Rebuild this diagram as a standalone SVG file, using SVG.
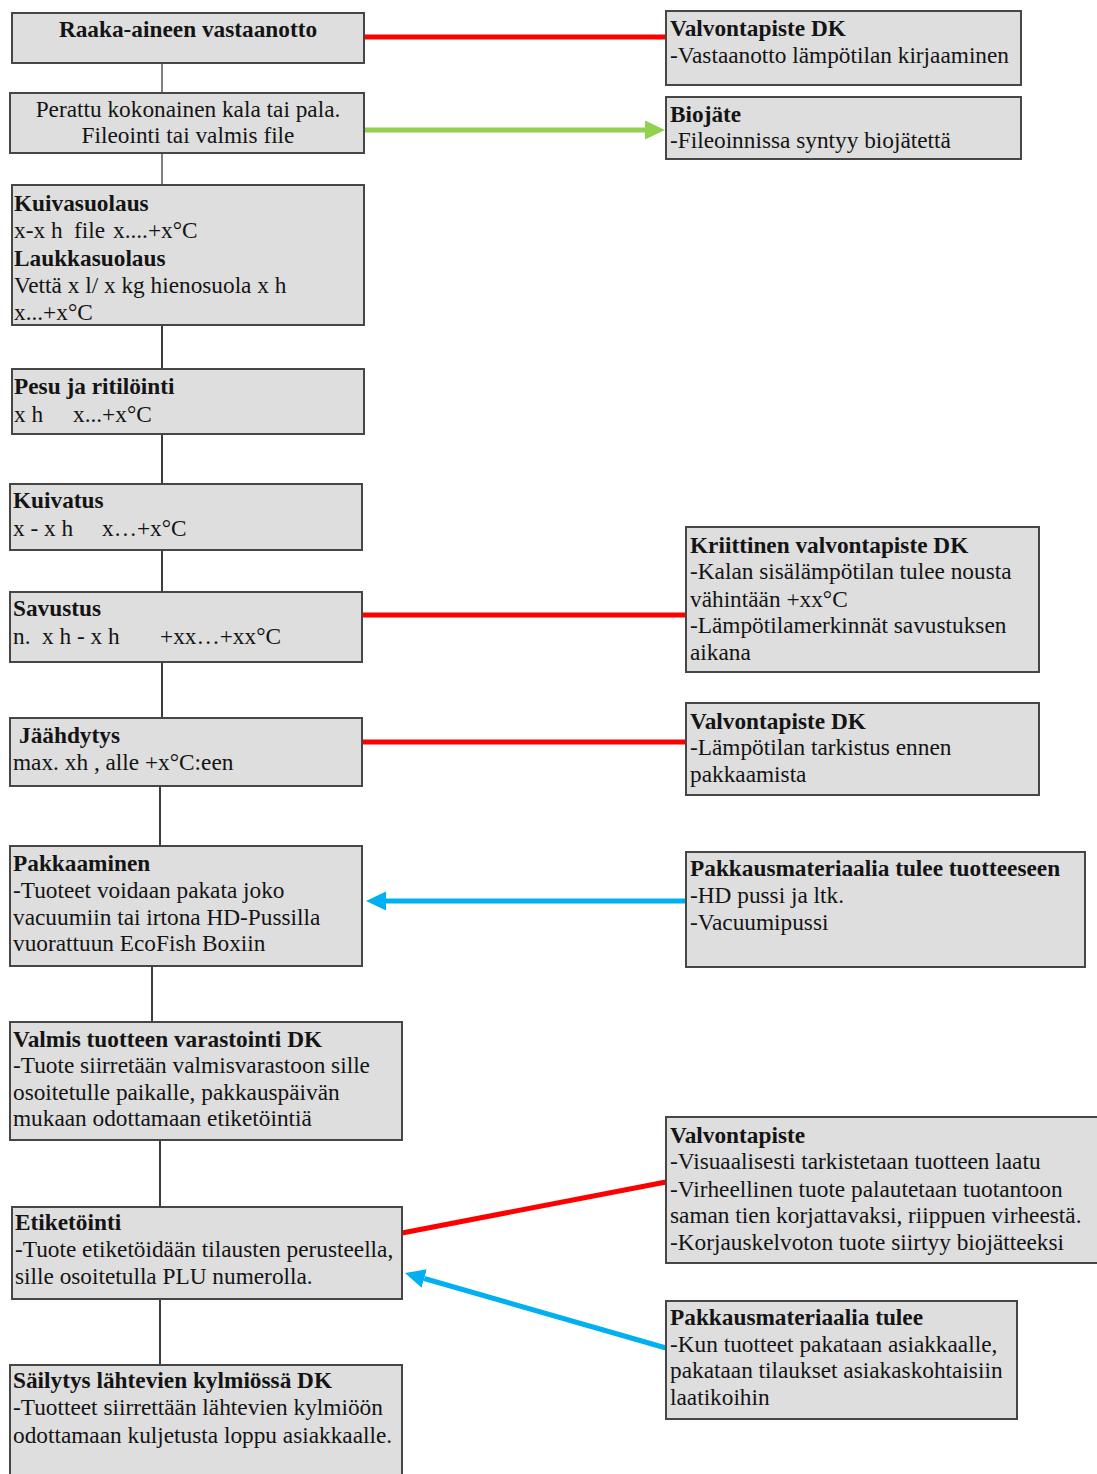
<svg xmlns="http://www.w3.org/2000/svg" width="1097" height="1474" viewBox="0 0 1097 1474">
<style>
  .box { fill: #dedede; stroke: #464646; stroke-width: 2; }
  text { font-family: "Liberation Serif", "Times New Roman", serif; font-size: 23.3px; fill: #141414; }
  .b { font-weight: bold; }
  .c { text-anchor: middle; }
  .vl { stroke: #3c3c3c; stroke-width: 2; fill: none; }
  .vlg { stroke: #808080; stroke-width: 2; fill: none; }
  .red { stroke: #ff0000; stroke-width: 5; fill: none; }
  .green { stroke: #92d050; stroke-width: 5; fill: none; }
  .blue { stroke: #00b0f0; stroke-width: 5; fill: none; }
</style>
<defs>
  <marker id="ahG" markerUnits="userSpaceOnUse" markerWidth="20" markerHeight="20" refX="0" refY="9.5" orient="auto">
    <path d="M0,0 L20,9.5 L0,19 z" fill="#92d050"/>
  </marker>
  <marker id="ahB" markerUnits="userSpaceOnUse" markerWidth="20" markerHeight="20" refX="0" refY="9.5" orient="auto">
    <path d="M0,0 L20,9.5 L0,19 z" fill="#00b0f0"/>
  </marker>
</defs>

<g id="connectors">
  <line class="vlg" x1="162" y1="63" x2="162" y2="93"/>
  <line class="vlg" x1="162" y1="153" x2="162" y2="185"/>
  <line class="vl" x1="162" y1="325" x2="162" y2="369"/>
  <line class="vl" x1="162" y1="434" x2="162" y2="484"/>
  <line class="vl" x1="162" y1="550" x2="162" y2="592"/>
  <line class="vl" x1="162" y1="662" x2="162" y2="718"/>
  <line class="vl" x1="160" y1="786" x2="160" y2="846"/>
  <line class="vl" x1="152" y1="966" x2="152" y2="1022"/>
  <line class="vl" x1="160" y1="1140" x2="160" y2="1207"/>
  <line class="vl" x1="160" y1="1299" x2="160" y2="1365"/>
  <line class="red" x1="364" y1="37" x2="666" y2="37"/>
  <line class="green" x1="364" y1="130" x2="645" y2="130" marker-end="url(#ahG)"/>
  <line class="red" x1="363" y1="615" x2="686" y2="615"/>
  <line class="red" x1="362" y1="742" x2="686" y2="742"/>
  <line class="blue" x1="686" y1="901" x2="386" y2="901" marker-end="url(#ahB)"/>
  <line class="red" x1="402" y1="1233" x2="666" y2="1182"/>
  <line class="blue" x1="666" y1="1348" x2="424.2" y2="1278.5" marker-end="url(#ahB)"/>
</g>

<g id="n1">
  <rect class="box" x="12" y="13" width="352" height="50"/>
  <text class="b c" x="188" y="37">Raaka-aineen vastaanotto</text>
</g>
<g id="n2">
  <rect class="box" x="10" y="93" width="354" height="60"/>
  <text class="c" x="188" y="117">Perattu kokonainen kala tai pala.</text>
  <text class="c" x="188" y="143">Fileointi tai valmis file</text>
</g>
<g id="n3">
  <rect class="box" x="12" y="185" width="352" height="140"/>
  <text class="b" x="14" y="211">Kuivasuolaus</text>
  <text x="14" y="238">x-x h<tspan x="74">file</tspan><tspan x="113">x....+x°C</tspan></text>
  <text class="b" x="14" y="266">Laukkasuolaus</text>
  <text x="14" y="293">Vettä x l/ x kg hienosuola x h</text>
  <text x="14" y="320">x...+x°C</text>
</g>
<g id="n4">
  <rect class="box" x="12" y="369" width="352" height="65"/>
  <text class="b" x="14" y="394">Pesu ja ritilöinti</text>
  <text x="14" y="422">x h<tspan x="73">x...+x°C</tspan></text>
</g>
<g id="n5">
  <rect class="box" x="10" y="484" width="352" height="66"/>
  <text class="b" x="13" y="508">Kuivatus</text>
  <text x="13" y="536">x - x h<tspan x="102">x…+x°C</tspan></text>
</g>
<g id="n6">
  <rect class="box" x="10" y="592" width="352" height="70"/>
  <text class="b" x="13" y="616">Savustus</text>
  <text x="13" y="644">n.<tspan x="42">x h - x h</tspan><tspan x="160">+xx…+xx°C</tspan></text>
</g>
<g id="n7">
  <rect class="box" x="10" y="718" width="352" height="68"/>
  <text class="b" x="19" y="743">Jäähdytys</text>
  <text x="13" y="770">max. xh , alle +x°C:een</text>
</g>
<g id="n8">
  <rect class="box" x="10" y="846" width="352" height="120"/>
  <text class="b" x="13" y="871">Pakkaaminen</text>
  <text x="13" y="898">-Tuoteet voidaan pakata joko</text>
  <text x="13" y="925">vacuumiin tai irtona HD-Pussilla</text>
  <text x="13" y="951">vuorattuun EcoFish Boxiin</text>
</g>
<g id="n9">
  <rect class="box" x="10" y="1022" width="392" height="118"/>
  <text class="b" x="13" y="1047">Valmis tuotteen varastointi DK</text>
  <text x="13" y="1073">-Tuote siirretään valmisvarastoon sille</text>
  <text x="13" y="1100">osoitetulle paikalle, pakkauspäivän</text>
  <text x="13" y="1126">mukaan odottamaan etiketöintiä</text>
</g>
<g id="n10">
  <rect class="box" x="12" y="1207" width="390" height="92"/>
  <text class="b" x="15" y="1230">Etiketöinti</text>
  <text x="15" y="1257">-Tuote etiketöidään tilausten perusteella,</text>
  <text x="15" y="1284">sille osoitetulla PLU numerolla.</text>
</g>
<g id="n11">
  <rect class="box" x="10" y="1365" width="392" height="120"/>
  <text class="b" x="13" y="1388">Säilytys lähtevien kylmiössä DK</text>
  <text x="13" y="1415">-Tuotteet siirrettään lähtevien kylmiöön</text>
  <text x="13" y="1443">odottamaan kuljetusta loppu asiakkaalle.</text>
</g>

<g id="r1">
  <rect class="box" x="666" y="11" width="355" height="74"/>
  <text class="b" x="670" y="36">Valvontapiste DK</text>
  <text x="670" y="63">-Vastaanotto lämpötilan kirjaaminen</text>
</g>
<g id="r2">
  <rect class="box" x="666" y="97" width="355" height="62"/>
  <text class="b" x="670" y="122">Biojäte</text>
  <text x="670" y="148">-Fileoinnissa syntyy biojätettä</text>
</g>
<g id="r3">
  <rect class="box" x="686" y="527" width="353" height="145"/>
  <text class="b" x="690" y="553">Kriittinen valvontapiste DK</text>
  <text x="690" y="579">-Kalan sisälämpötilan tulee nousta</text>
  <text x="690" y="607">vähintään +xx°C</text>
  <text x="690" y="633">-Lämpötilamerkinnät savustuksen</text>
  <text x="690" y="660">aikana</text>
</g>
<g id="r4">
  <rect class="box" x="686" y="703" width="353" height="92"/>
  <text class="b" x="690" y="729">Valvontapiste DK</text>
  <text x="690" y="755">-Lämpötilan tarkistus ennen</text>
  <text x="690" y="782">pakkaamista</text>
</g>
<g id="r5">
  <rect class="box" x="686" y="852" width="399" height="115"/>
  <text class="b" x="690" y="876">Pakkausmateriaalia tulee tuotteeseen</text>
  <text x="690" y="903">-HD pussi ja ltk.</text>
  <text x="690" y="930">-Vacuumipussi</text>
</g>
<g id="r6">
  <rect class="box" x="666" y="1117" width="433" height="146"/>
  <text class="b" x="670" y="1143">Valvontapiste</text>
  <text x="670" y="1169">-Visuaalisesti tarkistetaan tuotteen laatu</text>
  <text x="670" y="1197">-Virheellinen tuote palautetaan tuotantoon</text>
  <text x="670" y="1223">saman tien korjattavaksi, riippuen virheestä.</text>
  <text x="670" y="1250">-Korjauskelvoton tuote siirtyy biojätteeksi</text>
</g>
<g id="r7">
  <rect class="box" x="666" y="1301" width="351" height="118"/>
  <text class="b" x="670" y="1325">Pakkausmateriaalia tulee</text>
  <text x="670" y="1352">-Kun tuotteet pakataan asiakkaalle,</text>
  <text x="670" y="1378">pakataan tilaukset asiakaskohtaisiin</text>
  <text x="670" y="1405">laatikoihin</text>
</g>
</svg>
